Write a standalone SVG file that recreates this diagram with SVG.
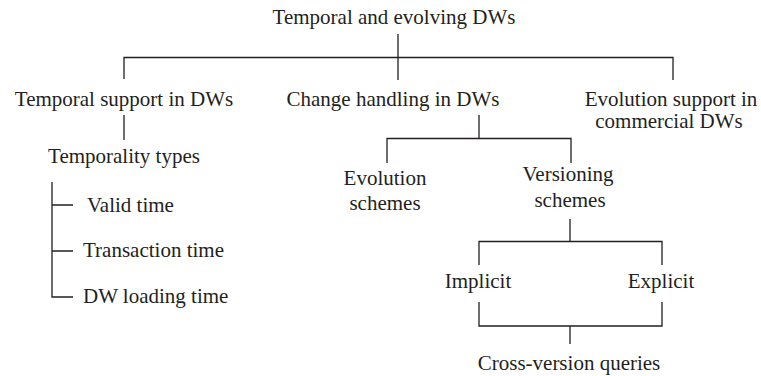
<svg xmlns="http://www.w3.org/2000/svg" width="761" height="376" viewBox="0 0 761 376">
<style>
text{font-family:"Liberation Serif","Times New Roman",serif;font-size:21px;fill:#231f20}
.c{text-anchor:middle}
.ln{stroke:#231f20;stroke-width:1.3;fill:none}
</style>
<rect width="761" height="376" fill="#fff"/>
<g id="connectors" class="ln">
<path d="M398 34V80M124 79V57.5H673V80"/>
<path d="M124 115V140"/>
<path d="M52 182V297H73M52 205H73M52 251H73"/>
<path d="M479 115V138.5M387 163V138.5H571V163"/>
<path d="M570 219V241.5M479 265V241.5H662V265"/>
<path d="M479 302V326H662V302M570 326V344"/>
</g>
<g id="root"><text class="c" x="394" y="24">Temporal and evolving DWs</text></g>
<g id="temporal-support"><text class="c" x="124" y="106">Temporal support in DWs</text></g>
<g id="change-handling"><text class="c" x="393" y="106">Change handling in DWs</text></g>
<g id="evolution-commercial"><text class="c" x="671" y="106">Evolution support in</text><text class="c" x="669" y="128">commercial DWs</text></g>
<g id="temporality-types"><text class="c" x="124" y="163">Temporality types</text></g>
<g id="valid-time"><text x="87" y="212">Valid time</text></g>
<g id="transaction-time"><text x="83" y="257">Transaction time</text></g>
<g id="dw-loading-time"><text x="83" y="303">DW loading time</text></g>
<g id="evolution-schemes"><text class="c" x="385" y="185">Evolution</text><text class="c" x="385" y="210">schemes</text></g>
<g id="versioning-schemes"><text class="c" x="568" y="181">Versioning</text><text class="c" x="570" y="207">schemes</text></g>
<g id="implicit"><text class="c" x="478" y="288">Implicit</text></g>
<g id="explicit"><text class="c" x="661" y="288">Explicit</text></g>
<g id="cross-version"><text class="c" x="569" y="370">Cross-version queries</text></g>
</svg>
